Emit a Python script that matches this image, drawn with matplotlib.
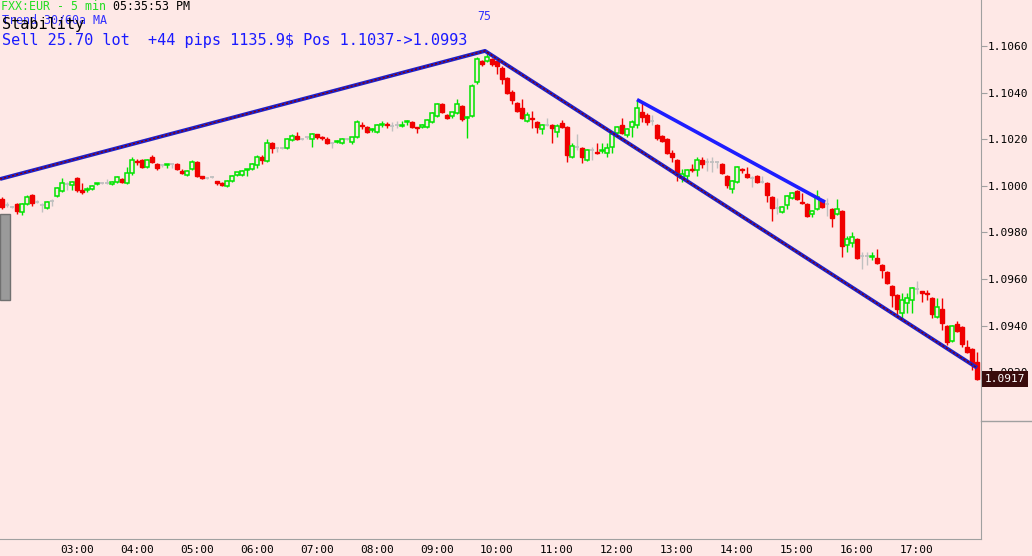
import matplotlib
matplotlib.use("Agg")
import matplotlib.pyplot as plt
from matplotlib.lines import Line2D
from matplotlib.patches import Rectangle
import matplotlib.transforms as mtransforms

# ---------------- data (5-minute candles, EUR) ----------------
open_ = [1.09944,1.09918,1.09909,1.09922,1.09888,1.09922,1.09961,1.09931,1.09918,1.09905,
         1.09935,1.09956,1.09978,1.10008,1.10004,1.10034,1.09982,1.09982,1.09987,1.10008,
         1.10012,1.10012,1.10008,1.10017,1.10029,1.10012,1.10055,1.10107,1.10111,1.10081,
         1.10124,1.10094,1.10089,1.10089,1.10094,1.10094,1.10064,1.10047,1.10072,1.10102,
         1.10042,1.10034,1.10038,1.10021,1.10012,1.09999,1.10021,1.10047,1.10047,1.10068,
         1.10072,1.10089,1.10124,1.10107,1.10184,1.10162,1.10162,1.10162,1.10197,1.10214,
         1.10201,1.10210,1.10201,1.10222,1.10210,1.10201,1.10184,1.10188,1.10184,1.10201,
         1.10188,1.10210,1.10261,1.10253,1.10240,1.10231,1.10261,1.10265,1.10257,1.10261,
         1.10257,1.10274,1.10274,1.10253,1.10253,1.10253,1.10274,1.10300,1.10351,1.10304,
         1.10300,1.10313,1.10343,1.10291,1.10300,1.10446,1.10536,1.10536,1.10544,1.10536,
         1.10506,1.10463,1.10403,1.10355,1.10334,1.10278,1.10291,1.10274,1.10244,1.10261,
         1.10261,1.10231,1.10270,1.10253,1.10124,1.10167,1.10162,1.10111,1.10154,1.10145,
         1.10150,1.10141,1.10167,1.10227,1.10261,1.10218,1.10253,1.10261,1.10317,1.10304,
         1.10278,1.10261,1.10214,1.10201,1.10141,1.10111,1.10034,1.10042,1.10072,1.10068,
         1.10111,1.10102,1.10102,1.10102,1.10094,1.10042,1.09987,1.10017,1.10072,1.10051,
         1.10034,1.10042,1.10017,1.10012,1.09952,1.09905,1.09888,1.09918,1.09948,1.09978,
         1.09931,1.09922,1.09879,1.09901,1.09939,1.09922,1.09901,1.09879,1.09892,1.09746,
         1.09755,1.09772,1.09699,1.09699,1.09695,1.09691,1.09660,1.09630,1.09570,1.09532,
         1.09455,1.09497,1.09510,1.09558,1.09549,1.09540,1.09519,1.09437,1.09472,1.09399,
         1.09334,1.09407,1.09395,1.09309,1.09300,1.09244]
high = [1.09952,1.09931,1.09914,1.09926,1.09926,1.09961,1.09965,1.09939,1.09926,1.09935,
        1.09944,1.09995,1.10034,1.10017,1.10021,1.10038,1.10012,1.09995,1.10004,1.10012,
        1.10017,1.10029,1.10021,1.10042,1.10034,1.10081,1.10124,1.10115,1.10115,1.10115,
        1.10132,1.10098,1.10089,1.10094,1.10094,1.10098,1.10072,1.10068,1.10111,1.10107,
        1.10042,1.10038,1.10042,1.10021,1.10017,1.10025,1.10047,1.10059,1.10068,1.10072,
        1.10098,1.10132,1.10132,1.10201,1.10188,1.10162,1.10167,1.10205,1.10222,1.10231,
        1.10205,1.10210,1.10227,1.10222,1.10214,1.10210,1.10184,1.10197,1.10205,1.10205,
        1.10210,1.10283,1.10274,1.10257,1.10248,1.10265,1.10278,1.10274,1.10274,1.10278,
        1.10278,1.10283,1.10278,1.10253,1.10265,1.10287,1.10317,1.10355,1.10355,1.10308,
        1.10317,1.10373,1.10347,1.10300,1.10437,1.10553,1.10540,1.10574,1.10549,1.10540,
        1.10514,1.10467,1.10411,1.10360,1.10373,1.10317,1.10321,1.10278,1.10265,1.10291,
        1.10265,1.10265,1.10283,1.10257,1.10184,1.10222,1.10167,1.10158,1.10167,1.10184,
        1.10184,1.10184,1.10227,1.10257,1.10291,1.10248,1.10283,1.10368,1.10355,1.10313,
        1.10304,1.10265,1.10218,1.10205,1.10154,1.10115,1.10072,1.10072,1.10094,1.10124,
        1.10124,1.10120,1.10124,1.10102,1.10098,1.10047,1.10025,1.10085,1.10077,1.10081,
        1.10042,1.10047,1.10042,1.10017,1.09956,1.09948,1.09914,1.09961,1.09974,1.09982,
        1.09969,1.09926,1.09896,1.09982,1.09944,1.09948,1.09905,1.09944,1.09896,1.09785,
        1.09802,1.09776,1.09716,1.09716,1.09716,1.09729,1.09665,1.09634,1.09575,1.09536,
        1.09540,1.09540,1.09566,1.09592,1.09549,1.09553,1.09523,1.09519,1.09519,1.09403,
        1.09403,1.09420,1.09399,1.09339,1.09304,1.09287]
low = [1.09901,1.09909,1.09905,1.09879,1.09875,1.09918,1.09914,1.09926,1.09888,1.09901,
       1.09914,1.09952,1.09974,1.09982,1.09982,1.09974,1.09965,1.09974,1.09982,1.10004,
       1.10008,1.10008,1.10004,1.10012,1.10012,1.10008,1.10047,1.10089,1.10077,1.10077,
       1.10098,1.10068,1.10081,1.10077,1.10077,1.10068,1.10051,1.10042,1.10068,1.10038,
       1.10029,1.10029,1.10034,1.10004,1.09999,1.09995,1.10017,1.10042,1.10042,1.10042,
       1.10068,1.10077,1.10094,1.10102,1.10141,1.10145,1.10158,1.10158,1.10192,1.10197,
       1.10197,1.10201,1.10167,1.10201,1.10197,1.10180,1.10162,1.10184,1.10180,1.10197,
       1.10180,1.10205,1.10244,1.10227,1.10231,1.10227,1.10253,1.10248,1.10235,1.10248,
       1.10253,1.10261,1.10248,1.10227,1.10248,1.10248,1.10270,1.10295,1.10313,1.10287,
       1.10291,1.10308,1.10278,1.10205,1.10295,1.10437,1.10514,1.10531,1.10514,1.10480,
       1.10437,1.10394,1.10351,1.10317,1.10287,1.10274,1.10248,1.10227,1.10222,1.10257,
       1.10184,1.10210,1.10248,1.10102,1.10120,1.10154,1.10098,1.10107,1.10111,1.10137,
       1.10141,1.10124,1.10141,1.10222,1.10222,1.10210,1.10210,1.10248,1.10274,1.10261,
       1.10261,1.10197,1.10188,1.10137,1.10102,1.10021,1.10017,1.10025,1.10059,1.10042,
       1.10077,1.10064,1.10059,1.10077,1.10051,1.09991,1.09969,1.10012,1.10055,1.10034,
       1.09995,1.10012,1.10012,1.09931,1.09849,1.09879,1.09884,1.09901,1.09944,1.09939,
       1.09922,1.09866,1.09866,1.09896,1.09905,1.09871,1.09824,1.09875,1.09695,1.09716,
       1.09738,1.09686,1.09643,1.09660,1.09682,1.09665,1.09605,1.09579,1.09480,1.09446,
       1.09425,1.09455,1.09455,1.09536,1.09502,1.09510,1.09433,1.09433,1.09382,1.09317,
       1.09330,1.09373,1.09309,1.09283,1.09210,1.09165]
close = [1.09909,1.09918,1.09909,1.09892,1.09922,1.09952,1.09926,1.09931,1.09918,1.09931,
         1.09935,1.09991,1.10012,1.10008,1.10017,1.09982,1.09974,1.09987,1.09999,1.10012,
         1.10012,1.10012,1.10017,1.10038,1.10017,1.10055,1.10111,1.10102,1.10081,1.10111,
         1.10102,1.10077,1.10089,1.10094,1.10094,1.10072,1.10055,1.10064,1.10102,1.10042,
         1.10034,1.10034,1.10038,1.10012,1.10004,1.10021,1.10042,1.10059,1.10064,1.10072,
         1.10094,1.10124,1.10111,1.10184,1.10162,1.10162,1.10162,1.10201,1.10214,1.10201,
         1.10201,1.10210,1.10222,1.10210,1.10205,1.10184,1.10184,1.10192,1.10201,1.10201,
         1.10210,1.10274,1.10257,1.10231,1.10244,1.10261,1.10265,1.10261,1.10257,1.10261,
         1.10261,1.10278,1.10253,1.10248,1.10261,1.10283,1.10313,1.10351,1.10317,1.10291,
         1.10317,1.10351,1.10287,1.10295,1.10428,1.10544,1.10523,1.10553,1.10523,1.10514,
         1.10458,1.10398,1.10368,1.10321,1.10291,1.10304,1.10287,1.10253,1.10261,1.10261,
         1.10248,1.10257,1.10253,1.10132,1.10171,1.10167,1.10124,1.10154,1.10154,1.10141,
         1.10154,1.10162,1.10222,1.10253,1.10227,1.10244,1.10274,1.10334,1.10295,1.10274,
         1.10278,1.10205,1.10192,1.10141,1.10124,1.10047,1.10051,1.10068,1.10068,1.10111,
         1.10094,1.10102,1.10102,1.10102,1.10055,1.10004,1.10021,1.10081,1.10068,1.10038,
         1.10034,1.10017,1.10017,1.09961,1.09905,1.09905,1.09909,1.09956,1.09969,1.09944,
         1.09926,1.09871,1.09892,1.09952,1.09909,1.09922,1.09862,1.09901,1.09742,1.09772,
         1.09781,1.09691,1.09699,1.09699,1.09699,1.09669,1.09639,1.09583,1.09532,1.09472,
         1.09510,1.09519,1.09562,1.09558,1.09540,1.09536,1.09450,1.09480,1.09412,1.09330,
         1.09399,1.09377,1.09322,1.09287,1.09240,1.09170]

time_labels = ["03:00", "04:00", "05:00", "06:00", "07:00", "08:00", "09:00", "10:00",
               "11:00", "12:00", "13:00", "14:00", "15:00", "16:00", "17:00"]
first_label_bar = 15          # bar index of 03:00
bars_per_hour = 12
price_ticks = [1.0920, 1.0940, 1.0960, 1.0980, 1.1000, 1.1020, 1.1040, 1.1060]
last_price = 1.0917

# trend lines (bar index, price)
trend_x = [-0.4, 96.6, 195.0]
trend_y = [1.10029, 1.10579, 1.09219]
channel_x = [127.0, 164.6]
channel_y = [1.1037, 1.0993]

# ---------------- style ----------------
BG = "#fee8e6"
GREEN = "#00e400"
RED = "#f00000"
GRAY = "#c0c0c0"
AXC = "#a0a0a0"
MONO = "DejaVu Sans Mono"

W, H = 1032, 556
fig = plt.figure(figsize=(W / 100, H / 100), dpi=100, facecolor=BG)
ax = fig.add_axes([0, 17 / H, 981 / W, 539 / H])
ax.set_facecolor(BG)

n = len(close)
xs = list(range(n))
ax.set_xlim(-0.4, 195.8)
ax.set_ylim(1.1060 - 493 / 23300, 1.1060 + 46 / 23300)

cols = []
for o, c in zip(open_, close):
    if c > o:
        cols.append(GREEN)
    elif c < o:
        cols.append(RED)
    else:
        cols.append(GRAY)

ax.vlines(xs, low, high, colors=cols, lw=1.0, zorder=2)
for i in range(n):
    o, c = open_[i], close[i]
    b = min(o, c)
    h = abs(c - o)
    if c > o:
        ax.bar(i, h, bottom=b, width=0.72, facecolor=BG, edgecolor=GREEN, lw=1.1, zorder=3)
    elif c < o:
        ax.bar(i, h, bottom=b, width=0.72, facecolor=RED, edgecolor=RED, lw=1.0, zorder=3)
    else:
        ax.hlines(o, i - 0.4, i + 0.4, colors=GRAY, lw=1.3, zorder=3)

# trend lines
ax.plot(trend_x, trend_y, color="#2020c8", lw=2.8, zorder=5, solid_capstyle="butt")
ax.plot(trend_x, trend_y, color="#8b0000", lw=1.0, zorder=6, dashes=(1.5, 1.5))
ax.plot(channel_x, channel_y, color="#1e1eff", lw=2.6, zorder=5, solid_capstyle="butt")

# axes
for s in ["top", "left"]:
    ax.spines[s].set_visible(False)
ax.spines["right"].set_color(AXC)
ax.spines["bottom"].set_color(AXC)
ax.yaxis.tick_right()
ax.set_yticks(price_ticks)
ax.set_yticklabels([f"{p:.4f}" for p in price_ticks], fontfamily=MONO, fontsize=8)
ax.tick_params(axis="y", length=4, color=AXC, pad=1, labelcolor="black")
ax.set_xticks([first_label_bar + bars_per_hour * k for k in range(len(time_labels))])
ax.set_xticklabels(time_labels, fontfamily=MONO, fontsize=8)
ax.tick_params(axis="x", length=0, pad=4, labelcolor="black")

# last price box
trans = mtransforms.blended_transform_factory(ax.transAxes, ax.transData)
ax.text(1.004, last_price, f"{last_price:.4f}", transform=trans, va="center", ha="left",
        fontsize=8, fontfamily=MONO, color="white", clip_on=False, zorder=10,
        bbox=dict(boxstyle="square,pad=0.25", fc="#3a0c0c", ec="none"))

# separator line in price scale
fig.add_artist(Line2D([981 / W, 1.0], [1 - 421 / H, 1 - 421 / H], color=AXC, lw=1))

# left gray panel
fig.add_artist(Rectangle((0, 1 - 300 / H), 10 / W, 86 / H, transform=fig.transFigure,
                         facecolor="#9a9a9a", edgecolor="#707070", lw=1))

# header texts
def ftxt(x, y, s, **kw):
    fig.text(x / W, 1 - y / H, s, va="center", ha="left", fontfamily=MONO, **kw)

ftxt(1, 6, "FXX:EUR - 5 min", fontsize=8.4, color="#22dd22")
ftxt(113, 6, "05:35:53 PM", fontsize=8.4, color="black")
ftxt(2, 20, "Trend 30/60a MA", fontsize=8.4, color="#3030ff")
ftxt(2, 24, "Stability", fontsize=11, color="black")
ftxt(2, 40, "Sell 25.70 lot  +44 pips 1135.9$ Pos 1.1037->1.0993", fontsize=11, color="#1a1aff")
ftxt(477, 17, "75", fontsize=8.4, color="#3030ff")

fig.savefig("out.png", dpi=100, facecolor=BG)
